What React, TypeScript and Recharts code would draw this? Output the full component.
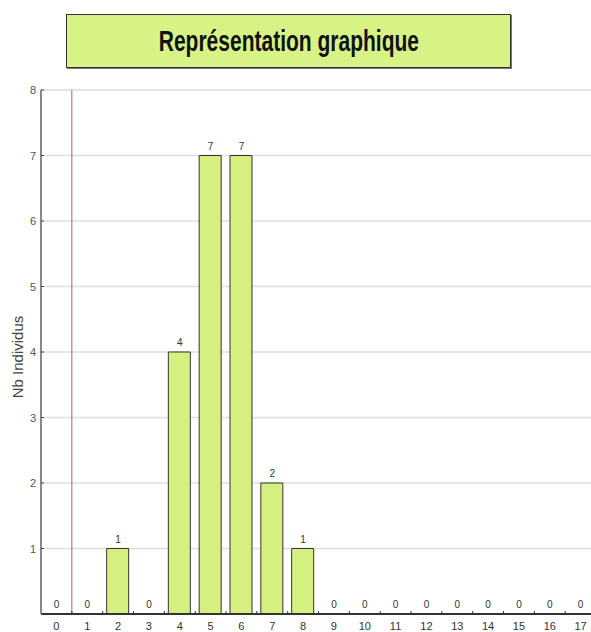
import { ComposedChart, Bar, Line, XAxis, YAxis, CartesianGrid, ReferenceLine, LabelList } from "recharts";

// number of observed values per class
const classes = ["0", "1", "2", "3", "4", "5", "6", "7", "8", "9", "10", "11", "12", "13", "14", "15", "16", "17"];
const counts = [0, 0, 1, 0, 4, 7, 7, 2, 1, 0, 0, 0, 0, 0, 0, 0, 0, 0];
const yTicks = [1, 2, 3, 4, 5, 6, 7, 8];

const data = classes.map((c, i) => ({ cls: c, n: counts[i] }));

const FONT = "'Liberation Sans Narrow', 'Liberation Sans', Arial, sans-serif";
const BAND = 30.8;

const XTick = (props: any) => {
  const { x, y, payload, index } = props;
  return (
    <g>
      {index > 0 && (
        <line x1={x - BAND / 2} y1={y - 3} x2={x - BAND / 2} y2={y} stroke="#333" strokeWidth={1} />
      )}
      <text x={x} y={y + 16} textAnchor="middle" fontSize={11} fill="#333" fontFamily={FONT}>
        {payload.value}
      </text>
    </g>
  );
};

const YTick = (props: any) => {
  const { x, y, payload } = props;
  return (
    <g>
      <line x1={x} y1={y} x2={x + 3} y2={y} stroke="#444" strokeWidth={1} />
      <text x={x - 5} y={y + 4} textAnchor="end" fontSize={11} fill="#555" fontFamily={FONT}>
        {payload.value}
      </text>
    </g>
  );
};

export default function App() {
  return (
    <div
      style={{
        position: "absolute",
        left: 0,
        top: 0,
        width: 591,
        height: 632,
        overflow: "hidden",
        background: "#fff",
      }}
    >
      <div
        style={{
          position: "absolute",
          left: 66,
          top: 14,
          width: 443,
          height: 52,
          background: "#d8f385",
          border: "1px solid #333",
          boxShadow: "1px 1px 0 #777",
          display: "flex",
          alignItems: "center",
          justifyContent: "center",
          fontFamily: FONT,
          fontWeight: "bold",
          fontSize: 30,
          color: "#111",
        }}
      >
        <span style={{ display: "inline-block", transform: "scaleX(0.7)", whiteSpace: "nowrap" }}>
          Représentation graphique
        </span>
      </div>
      <ComposedChart
        width={600}
        height={632}
        data={data}
        margin={{ top: 90, right: 4, left: 0, bottom: 0 }}
        barSize={22}
      >
        <CartesianGrid vertical={false} stroke="#dedede" strokeWidth={1.5} />
        <XAxis
          dataKey="cls"
          height={18}
          interval={0}
          tickSize={0}
          tickMargin={0}
          tick={<XTick />}
          axisLine={{ stroke: "#333", strokeWidth: 2 }}
          tickLine={false}
        />
        <YAxis
          width={41}
          domain={[0, 8]}
          ticks={yTicks}
          interval={0}
          tickSize={0}
          tickMargin={0}
          tick={<YTick />}
          axisLine={{ stroke: "#888", strokeWidth: 2 }}
          tickLine={false}
          label={{
            value: "Nb Individus",
            angle: -90,
            position: "insideLeft",
            offset: 18,
            dy: 5,
            style: { textAnchor: "middle", fontSize: 15, fill: "#444", fontFamily: "'Liberation Sans', Arial, sans-serif" },
          }}
        />
        <ReferenceLine x="1" position="start" stroke="#c65a5a" strokeWidth={1} ifOverflow="extendDomain" />
        <Bar dataKey="n" fill="#d6f07f" stroke="#333" strokeWidth={1} isAnimationActive={false} />
        {/* invisible series carrying the count labels, so empty classes show their 0 too */}
        <Line dataKey="n" stroke="none" dot={false} activeDot={false} isAnimationActive={false}>
          <LabelList dataKey="n" position="top" offset={6} fontSize={10} fill="#333" fontFamily={FONT} />
        </Line>
      </ComposedChart>
    </div>
  );
}
